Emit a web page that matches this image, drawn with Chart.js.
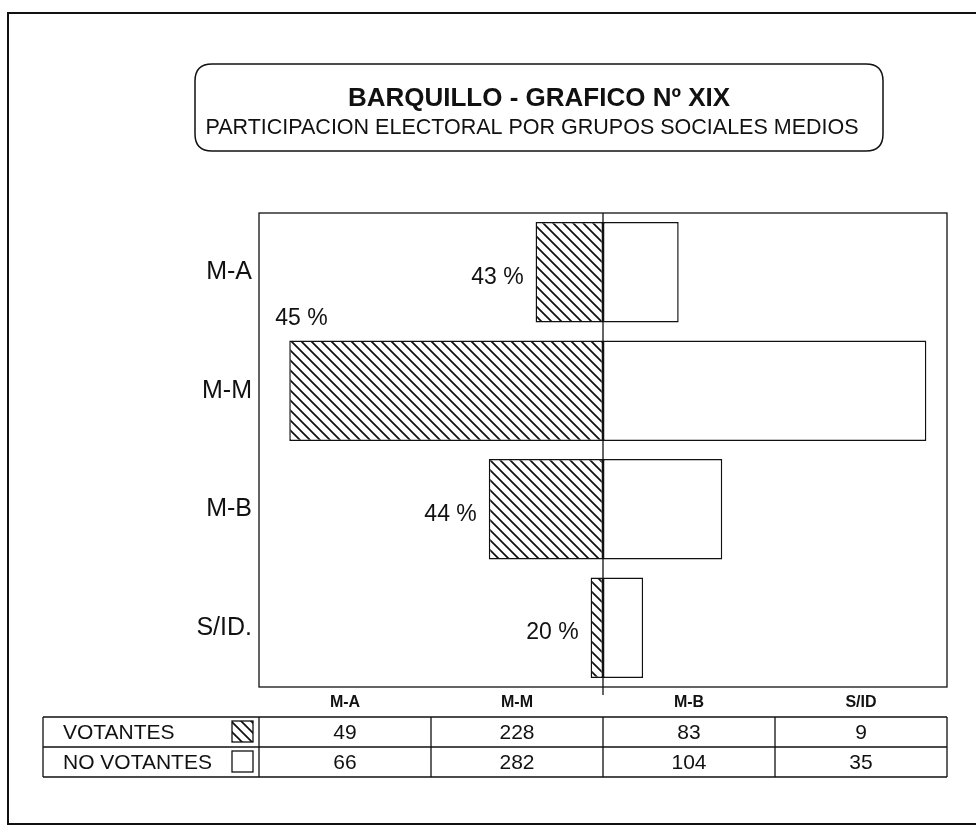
<!DOCTYPE html>
<html>
<head>
<meta charset="utf-8">
<script src="https://cdn.jsdelivr.net/npm/chart.js@4.4.1/dist/chart.umd.min.js"></script>
<style>
  html, body { margin: 0; padding: 0; background: #fff; }
  canvas { display: block; }
</style>
</head>
<body>
<canvas id="chart" width="976" height="829"></canvas>
<script>
// data
const categories = ['M-A', 'M-M', 'M-B', 'S/ID.'];
const tableHeads = ['M-A', 'M-M', 'M-B', 'S/ID'];
const votantes = [49, 228, 83, 9];
const noVotantes = [66, 282, 104, 35];
const pctLabels = ['43 %', '45 %', '44 %', '20 %'];
const seriesNames = ['VOTANTES', 'NO VOTANTES'];

const FONT = '"Liberation Sans", Arial, Helvetica, sans-serif';
const INK = '#111';

// diagonal hatch used for votantes
function makeHatch() {
    const c = document.createElement('canvas');
    c.width = 10; c.height = 10;
    const g = c.getContext('2d');
    g.fillStyle = '#fff';
    g.fillRect(0, 0, 10, 10);
    g.strokeStyle = INK;
    g.lineWidth = 1.7;
    g.beginPath();
    g.moveTo(-1, -1); g.lineTo(11, 11);
    g.moveTo(-1, 9); g.lineTo(1, 11);
    g.moveTo(9, -1); g.lineTo(11, 1);
    g.stroke();
    return g.createPattern(c, 'repeat');
}
const hatch = makeHatch();

function roundRect(ctx, x, y, w, h, r) {
    ctx.beginPath();
    ctx.moveTo(x + r, y);
    ctx.lineTo(x + w - r, y);
    ctx.quadraticCurveTo(x + w, y, x + w, y + r);
    ctx.lineTo(x + w, y + h - r);
    ctx.quadraticCurveTo(x + w, y + h, x + w - r, y + h);
    ctx.lineTo(x + r, y + h);
    ctx.quadraticCurveTo(x, y + h, x, y + h - r);
    ctx.lineTo(x, y + r);
    ctx.quadraticCurveTo(x, y, x + r, y);
    ctx.closePath();
}

// frame, title box, plot box, labels and the data table
const decor = {
    id: 'decor',
    beforeDraw(chart) {
        const ctx = chart.ctx;
        ctx.save();
        ctx.fillStyle = '#fff';
        ctx.fillRect(0, 0, chart.width, chart.height);
        ctx.restore();
    },
    afterDatasetsDraw(chart) {
        const ctx = chart.ctx;
        const area = chart.chartArea;
        const zeroX = chart.scales.xn.getPixelForValue(0);
        ctx.save();
        ctx.strokeStyle = INK;
        ctx.lineWidth = 1.3;
        ctx.strokeRect(area.left, area.top, area.right - area.left, area.bottom - area.top);
        ctx.beginPath();
        ctx.moveTo(zeroX, area.top);
        ctx.lineTo(zeroX, area.bottom + 8);
        ctx.stroke();

        // percentage labels next to the votantes bars
        ctx.fillStyle = INK;
        ctx.font = '23px ' + FONT;
        const meta = chart.getDatasetMeta(0);
        meta.data.forEach((bar, i) => {
            const txt = pctLabels[i];
            const w = ctx.measureText(txt).width;
            if (bar.x - 12 - w < area.left + 4) {
                ctx.textAlign = 'left';
                ctx.textBaseline = 'alphabetic';
                ctx.fillText(txt, bar.x - 14, bar.y - bar.height / 2 - 15);
            } else {
                ctx.textAlign = 'right';
                ctx.textBaseline = 'middle';
                ctx.fillText(txt, bar.x - 12, bar.y + 5);
            }
        });
        ctx.restore();
    },
    afterDraw(chart) {
        const ctx = chart.ctx;
        const area = chart.chartArea;
        ctx.save();
        ctx.strokeStyle = INK;
        ctx.fillStyle = INK;

        // outer frame (right side runs off the page)
        ctx.lineWidth = 2;
        ctx.beginPath();
        ctx.moveTo(976, 13); ctx.lineTo(8, 13); ctx.lineTo(8, 824); ctx.lineTo(976, 824);
        ctx.stroke();

        // title box
        ctx.lineWidth = 1.5;
        roundRect(ctx, 195, 64, 688, 87, 17);
        ctx.stroke();
        ctx.textAlign = 'center';
        ctx.textBaseline = 'alphabetic';
        ctx.font = 'bold 26px ' + FONT;
        ctx.fillText('BARQUILLO - GRAFICO Nº XIX', 539, 106);
        ctx.font = '21.5px ' + FONT;
        ctx.fillText('PARTICIPACION ELECTORAL POR GRUPOS SOCIALES MEDIOS', 532, 134);

        // table below the plot, one column per category
        const colW = (area.right - area.left) / tableHeads.length;
        const tLeft = 43, rowTop = [717, 747], rowH = 30;
        const tBottom = rowTop[1] + rowH;
        ctx.font = 'bold 16px ' + FONT;
        ctx.textBaseline = 'middle';
        tableHeads.forEach((h, i) => {
            ctx.fillText(h, area.left + colW * (i + 0.5), 703);
        });
        ctx.lineWidth = 1.3;
        ctx.beginPath();
        [rowTop[0], rowTop[1], tBottom].forEach(y => { ctx.moveTo(tLeft, y); ctx.lineTo(area.right, y); });
        ctx.moveTo(tLeft, rowTop[0]); ctx.lineTo(tLeft, tBottom);
        for (let i = 0; i <= tableHeads.length; i++) {
            const x = area.left + colW * i;
            ctx.moveTo(x, rowTop[0]); ctx.lineTo(x, tBottom);
        }
        ctx.stroke();

        const rows = [votantes, noVotantes];
        rows.forEach((vals, r) => {
            const cy = rowTop[r] + rowH / 2 + 1;
            ctx.font = '21px ' + FONT;
            ctx.textAlign = 'left';
            ctx.fillText(seriesNames[r], 63, cy);
            // legend swatch
            ctx.fillStyle = r === 0 ? hatch : '#fff';
            ctx.fillRect(232, rowTop[r] + 4, 21, 21);
            ctx.fillStyle = INK;
            ctx.strokeRect(232, rowTop[r] + 4, 21, 21);
            ctx.textAlign = 'center';
            vals.forEach((v, i) => {
                ctx.fillText(String(v), area.left + colW * (i + 0.5), cy);
            });
        });
        ctx.restore();
    }
};

new Chart(document.getElementById('chart'), {
    type: 'bar',
    data: {
        labels: categories,
        datasets: [
            {
                label: seriesNames[0],
                data: votantes.map(v => -v),
                xAxisID: 'xv',
                backgroundColor: hatch,
                borderColor: INK,
                borderWidth: 1.5,
                borderSkipped: false,
                grouped: false,
                categoryPercentage: 1,
                barPercentage: 0.85
            },
            {
                label: seriesNames[1],
                data: noVotantes,
                xAxisID: 'xn',
                backgroundColor: '#fff',
                borderColor: INK,
                borderWidth: 1.5,
                borderSkipped: false,
                grouped: false,
                categoryPercentage: 1,
                barPercentage: 0.85
            }
        ]
    },
    options: {
        indexAxis: 'y',
        responsive: false,
        animation: false,
        devicePixelRatio: 1,
        layout: { padding: { top: 213, bottom: 142, right: 29, left: 0 } },
        scales: {
            y: {
                type: 'category',
                position: 'left',
                grid: { display: false, drawTicks: false },
                border: { display: false },
                ticks: { color: INK, padding: 7, font: { family: FONT, size: 25 } },
                afterFit(scale) { scale.width = 259; }
            },
            // votantes and no votantes use different scales in the original
            xv: { type: 'linear', min: -250, max: 250, display: false },
            xn: { type: 'linear', min: -300, max: 300, display: false }
        },
        plugins: {
            legend: { display: false },
            tooltip: { enabled: false }
        }
    },
    plugins: [decor]
});
</script>
</body>
</html>
